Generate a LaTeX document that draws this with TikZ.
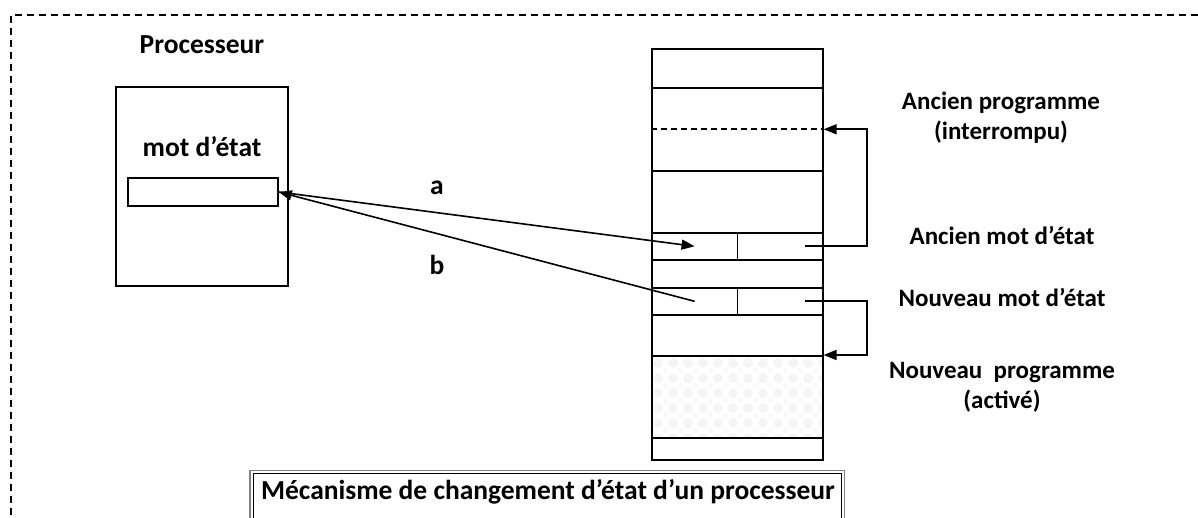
\documentclass[tikz,border=0pt]{standalone}
\usepackage{fontspec}
\setmainfont{Carlito}
\usetikzlibrary{positioning,arrows.meta,calc}
\tikzset{
    >={Triangle[length=13pt,width=10pt]},
    box/.style = {draw, line width=1.6pt, inner sep=0pt},
    cell/.style = {box, minimum width=171pt, anchor=north west},
    word/.style = {box, minimum width=85.5pt, minimum height=27pt, anchor=north west},
    lbl/.style = {font=\bfseries\fontsize{25}{30}\selectfont, align=center, inner sep=0pt},
    biglbl/.style = {lbl, font=\bfseries\fontsize{27.5}{32}\selectfont},
    link/.style = {line width=1.6pt},
}

\begin{document}
\begin{tikzpicture}[x=1pt, y=-1pt]
    \useasboundingbox (0,0) rectangle (1198,518);

    % frame
    \draw [dashed, line width=1.4pt, dash pattern=on 7pt off 5pt] (1210,15) -- (11,15) -- (11,530);

    % shading of the new program
    \begin{scope}
        \clip (651,355) rectangle (822,437);
        \foreach \i in {0,...,11}
            \foreach \j in {0,...,5} {
                \fill [gray!8] (658+15*\i,363+15*\j) circle (5pt);
                \fill [gray!5] (665.5+15*\i,370.5+15*\j) circle (3pt);
            }
    \end{scope}

    % processor
    \node (cpuname) at (202,45) [biglbl] {Processeur};
    \node (cpu) at (202,186.5) [box, minimum width=172pt, minimum height=199pt] {};
    \node (pwname) at (202,147) [biglbl] {mot d’état};
    \node (pw) at (203,192) [box, minimum width=150pt, minimum height=28pt] {};

    % memory
    \node (top)     at (651,48)  [cell, minimum height=39pt] {};
    \node (oldprog) at (651,87)  [cell, minimum height=83pt] {};
    \node (gap1)    at (651,170) [cell, minimum height=62pt] {};
    \node (oldL)    at (651,232) [word] {};
    \node (oldR)    at (736.5,232) [word] {};
    \node (gap2)    at (651,259) [cell, minimum height=28pt] {};
    \node (newL)    at (651,287) [word] {};
    \node (newR)    at (736.5,287) [word] {};
    \node (gap3)    at (651,314) [cell, minimum height=41pt] {};
    \node (newprog) at (651,355) [cell, minimum height=82pt] {};
    \node (bottom)  at (651,437) [cell, minimum height=22pt] {};

    \draw [dashed, line width=1.6pt, dash pattern=on 6pt off 4pt] (oldprog.west) -- (oldprog.east);

    % labels
    \node (oldprogname) at (1001,118) [lbl] {Ancien programme\\(interrompu)};
    \node (oldname) at (1002,235) [lbl] {Ancien mot d’état};
    \node (newname) at (1002,297) [lbl] {Nouveau mot d’état};
    \node (newprogname) at (1002,387) [lbl] {Nouveau\ \ programme\\(activé)};
    \node (la) at (437,188) [biglbl] {a};
    \node (lb) at (437,265) [biglbl] {b};

    % exchange
    \coordinate (oldsrc) at ($(oldR.center)+(25,0)$);
    \coordinate (newsrc) at ($(newR.center)+(25,0)$);
    \draw [link, ->] (pw.east) -- (oldL.center);
    \draw [link, ->] (newL.center) -- (pw.east);
    \draw [link, ->] (oldsrc) -- ++(62,0) |- (oldprog.east);
    \draw [link, ->] (newsrc) -- ++(62,0) |- (newprog.north east);

    % caption
    \draw [gray, line width=1.3pt] (250,470.5) rectangle (844.5,540);
    \draw [line width=1pt] (253,473.5) rectangle (841.5,540);
    \node (caption) at (548,492) [biglbl] {Mécanisme de changement d’état d’un processeur};
\end{tikzpicture}
\end{document}
